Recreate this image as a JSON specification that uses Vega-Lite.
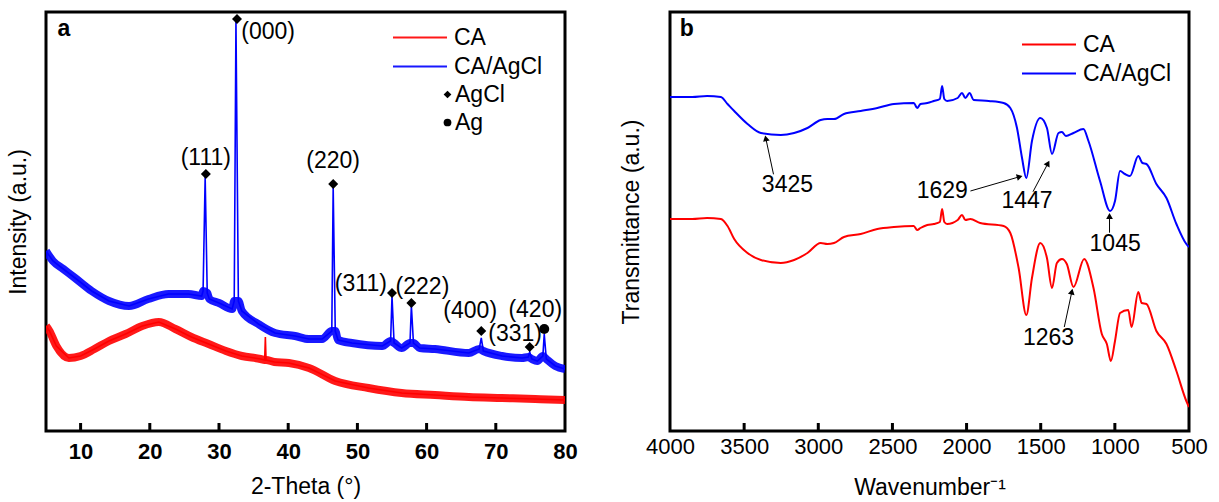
{
  "$schema": "https://vega.github.io/schema/vega-lite/v6.json",
  "padding": {"left": 5, "top": 10, "right": 0, "bottom": 0},
  "bounds": "flush",
  "spacing": 105,
  "background": "white",
  "config": {
    "font": "Liberation Sans",
    "view": {"stroke": "black", "strokeWidth": 3},
    "axis": {"grid": false, "domain": false, "labelColor": "black", "titleColor": "black", "ticks": false},
    "legend": {"labelColor": "black", "labelFontSize": 23, "labelFont": "Liberation Sans"}
  },
  "resolve": {"scale": {"color": "independent"}, "legend": {"color": "independent"}},
  "datasets": {
    "xrd": [
      {"s": "CA", "x": 5.0, "i": 105}, {"s": "CA", "x": 5.5, "i": 100}, {"s": "CA", "x": 6.5, "i": 85},
      {"s": "CA", "x": 8.3, "i": 73}, {"s": "CA", "x": 10.0, "i": 75}, {"s": "CA", "x": 12.0, "i": 82},
      {"s": "CA", "x": 14.1, "i": 90}, {"s": "CA", "x": 16.5, "i": 97}, {"s": "CA", "x": 18.9, "i": 105},
      {"s": "CA", "x": 21.3, "i": 109}, {"s": "CA", "x": 23.7, "i": 102}, {"s": "CA", "x": 26.0, "i": 94},
      {"s": "CA", "x": 28.5, "i": 87}, {"s": "CA", "x": 31.0, "i": 80}, {"s": "CA", "x": 33.3, "i": 75},
      {"s": "CA", "x": 36.0, "i": 72}, {"s": "CA", "x": 36.6, "i": 71}, {"s": "CA", "x": 36.7, "i": 94, "spike": true},
      {"s": "CA", "x": 36.8, "i": 71}, {"s": "CA", "x": 38.0, "i": 69}, {"s": "CA", "x": 40.1, "i": 68},
      {"s": "CA", "x": 43.0, "i": 63}, {"s": "CA", "x": 46.8, "i": 50}, {"s": "CA", "x": 51.6, "i": 43},
      {"s": "CA", "x": 56.4, "i": 38}, {"s": "CA", "x": 61.2, "i": 36}, {"s": "CA", "x": 66.1, "i": 34},
      {"s": "CA", "x": 70.9, "i": 33}, {"s": "CA", "x": 75.7, "i": 32}, {"s": "CA", "x": 80.0, "i": 31},
      {"s": "CA/AgCl", "x": 5.0, "i": 180}, {"s": "CA/AgCl", "x": 6.0, "i": 170}, {"s": "CA/AgCl", "x": 7.5, "i": 162},
      {"s": "CA/AgCl", "x": 9.2, "i": 153}, {"s": "CA/AgCl", "x": 11.6, "i": 140}, {"s": "CA/AgCl", "x": 14.1, "i": 130},
      {"s": "CA/AgCl", "x": 17.0, "i": 125}, {"s": "CA/AgCl", "x": 19.8, "i": 132}, {"s": "CA/AgCl", "x": 22.7, "i": 137},
      {"s": "CA/AgCl", "x": 25.6, "i": 137}, {"s": "CA/AgCl", "x": 27.5, "i": 135}, {"s": "CA/AgCl", "x": 27.7, "i": 140},
      {"s": "CA/AgCl", "x": 28.0, "i": 254, "spike": true}, {"s": "CA/AgCl", "x": 28.3, "i": 138}, {"s": "CA/AgCl", "x": 28.6, "i": 132},
      {"s": "CA/AgCl", "x": 30.0, "i": 128}, {"s": "CA/AgCl", "x": 31.9, "i": 122}, {"s": "CA/AgCl", "x": 32.2, "i": 130},
      {"s": "CA/AgCl", "x": 32.45, "i": 410, "spike": true}, {"s": "CA/AgCl", "x": 32.8, "i": 130}, {"s": "CA/AgCl", "x": 33.3, "i": 120},
      {"s": "CA/AgCl", "x": 35.7, "i": 107}, {"s": "CA/AgCl", "x": 38.1, "i": 98}, {"s": "CA/AgCl", "x": 41.0, "i": 95},
      {"s": "CA/AgCl", "x": 43.0, "i": 92}, {"s": "CA/AgCl", "x": 44.9, "i": 92}, {"s": "CA/AgCl", "x": 46.3, "i": 100},
      {"s": "CA/AgCl", "x": 46.5, "i": 244, "spike": true}, {"s": "CA/AgCl", "x": 46.8, "i": 100}, {"s": "CA/AgCl", "x": 47.2, "i": 91},
      {"s": "CA/AgCl", "x": 49.2, "i": 88}, {"s": "CA/AgCl", "x": 53.6, "i": 85}, {"s": "CA/AgCl", "x": 54.8, "i": 90},
      {"s": "CA/AgCl", "x": 55.0, "i": 135, "spike": true}, {"s": "CA/AgCl", "x": 55.3, "i": 88}, {"s": "CA/AgCl", "x": 56.4, "i": 83},
      {"s": "CA/AgCl", "x": 57.6, "i": 88}, {"s": "CA/AgCl", "x": 57.8, "i": 125, "spike": true}, {"s": "CA/AgCl", "x": 58.1, "i": 88},
      {"s": "CA/AgCl", "x": 59.0, "i": 83}, {"s": "CA/AgCl", "x": 61.2, "i": 82}, {"s": "CA/AgCl", "x": 66.1, "i": 78},
      {"s": "CA/AgCl", "x": 67.6, "i": 82}, {"s": "CA/AgCl", "x": 67.9, "i": 93, "spike": true}, {"s": "CA/AgCl", "x": 68.2, "i": 80},
      {"s": "CA/AgCl", "x": 70.9, "i": 75}, {"s": "CA/AgCl", "x": 73.8, "i": 73}, {"s": "CA/AgCl", "x": 74.7, "i": 74},
      {"s": "CA/AgCl", "x": 74.9, "i": 79, "spike": true}, {"s": "CA/AgCl", "x": 75.2, "i": 72}, {"s": "CA/AgCl", "x": 76.0, "i": 70},
      {"s": "CA/AgCl", "x": 76.8, "i": 75}, {"s": "CA/AgCl", "x": 77.0, "i": 97, "spike": true}, {"s": "CA/AgCl", "x": 77.3, "i": 72},
      {"s": "CA/AgCl", "x": 78.6, "i": 65}, {"s": "CA/AgCl", "x": 80.0, "i": 62}
    ],
    "xrdPeaks": [
      {"hkl": "(111)", "phase": "AgCl", "x": 28.1, "i": 257, "lx": 28.1, "li": 273},
      {"hkl": "(000)", "phase": "AgCl", "x": 32.6, "i": 412, "lx": 37.1, "li": 399},
      {"hkl": "(220)", "phase": "AgCl", "x": 46.5, "i": 247, "lx": 46.5, "li": 270},
      {"hkl": "(311)", "phase": "AgCl", "x": 55.0, "i": 138, "lx": 50.5, "li": 147},
      {"hkl": "(222)", "phase": "AgCl", "x": 57.8, "i": 128, "lx": 59.4, "li": 144},
      {"hkl": "(400)", "phase": "AgCl", "x": 67.9, "i": 100, "lx": 66.3, "li": 120},
      {"hkl": "(331)", "phase": "AgCl", "x": 74.9, "i": 84, "lx": 72.8, "li": 97},
      {"hkl": "(420)", "phase": "Ag", "x": 77.0, "i": 102, "lx": 75.7, "li": 121}
    ],
    "ftir": [
      {"s": "CA", "wn": 4000, "t": 212}, {"s": "CA", "wn": 3850, "t": 212}, {"s": "CA", "wn": 3750, "t": 213},
      {"s": "CA", "wn": 3657, "t": 212}, {"s": "CA", "wn": 3612, "t": 205}, {"s": "CA", "wn": 3567, "t": 192},
      {"s": "CA", "wn": 3477, "t": 178}, {"s": "CA", "wn": 3387, "t": 171}, {"s": "CA", "wn": 3253, "t": 168},
      {"s": "CA", "wn": 3163, "t": 171}, {"s": "CA", "wn": 3073, "t": 178}, {"s": "CA", "wn": 2984, "t": 188},
      {"s": "CA", "wn": 2939, "t": 187}, {"s": "CA", "wn": 2894, "t": 188}, {"s": "CA", "wn": 2827, "t": 194},
      {"s": "CA", "wn": 2714, "t": 197}, {"s": "CA", "wn": 2602, "t": 202}, {"s": "CA", "wn": 2490, "t": 204},
      {"s": "CA", "wn": 2356, "t": 205}, {"s": "CA", "wn": 2333, "t": 201}, {"s": "CA", "wn": 2311, "t": 203},
      {"s": "CA", "wn": 2265, "t": 206}, {"s": "CA", "wn": 2221, "t": 207}, {"s": "CA", "wn": 2180, "t": 209},
      {"s": "CA", "wn": 2165, "t": 222}, {"s": "CA", "wn": 2150, "t": 209}, {"s": "CA", "wn": 2131, "t": 207},
      {"s": "CA", "wn": 2060, "t": 211}, {"s": "CA", "wn": 2031, "t": 216}, {"s": "CA", "wn": 2008, "t": 211},
      {"s": "CA", "wn": 1975, "t": 212}, {"s": "CA", "wn": 1908, "t": 208}, {"s": "CA", "wn": 1750, "t": 205},
      {"s": "CA", "wn": 1705, "t": 198}, {"s": "CA", "wn": 1649, "t": 163}, {"s": "CA", "wn": 1597, "t": 116},
      {"s": "CA", "wn": 1559, "t": 153}, {"s": "CA", "wn": 1503, "t": 188}, {"s": "CA", "wn": 1458, "t": 173},
      {"s": "CA", "wn": 1424, "t": 143}, {"s": "CA", "wn": 1391, "t": 168}, {"s": "CA", "wn": 1357, "t": 172},
      {"s": "CA", "wn": 1324, "t": 167}, {"s": "CA", "wn": 1279, "t": 144}, {"s": "CA", "wn": 1207, "t": 172},
      {"s": "CA", "wn": 1144, "t": 143}, {"s": "CA", "wn": 1088, "t": 97}, {"s": "CA", "wn": 1054, "t": 87},
      {"s": "CA", "wn": 1027, "t": 70}, {"s": "CA", "wn": 999, "t": 90}, {"s": "CA", "wn": 965, "t": 118},
      {"s": "CA", "wn": 910, "t": 121}, {"s": "CA", "wn": 887, "t": 104}, {"s": "CA", "wn": 842, "t": 139},
      {"s": "CA", "wn": 819, "t": 128}, {"s": "CA", "wn": 787, "t": 127}, {"s": "CA", "wn": 720, "t": 100},
      {"s": "CA", "wn": 652, "t": 87}, {"s": "CA", "wn": 585, "t": 60}, {"s": "CA", "wn": 518, "t": 30},
      {"s": "CA", "wn": 500, "t": 24},
      {"s": "CA/AgCl", "wn": 4000, "t": 334}, {"s": "CA/AgCl", "wn": 3850, "t": 334}, {"s": "CA/AgCl", "wn": 3750, "t": 335},
      {"s": "CA/AgCl", "wn": 3657, "t": 334}, {"s": "CA/AgCl", "wn": 3612, "t": 327}, {"s": "CA/AgCl", "wn": 3567, "t": 320},
      {"s": "CA/AgCl", "wn": 3477, "t": 307}, {"s": "CA/AgCl", "wn": 3387, "t": 298}, {"s": "CA/AgCl", "wn": 3253, "t": 296},
      {"s": "CA/AgCl", "wn": 3163, "t": 298}, {"s": "CA/AgCl", "wn": 3073, "t": 303}, {"s": "CA/AgCl", "wn": 2984, "t": 311},
      {"s": "CA/AgCl", "wn": 2939, "t": 312}, {"s": "CA/AgCl", "wn": 2894, "t": 312}, {"s": "CA/AgCl", "wn": 2827, "t": 317},
      {"s": "CA/AgCl", "wn": 2714, "t": 320}, {"s": "CA/AgCl", "wn": 2602, "t": 323}, {"s": "CA/AgCl", "wn": 2490, "t": 327},
      {"s": "CA/AgCl", "wn": 2356, "t": 328}, {"s": "CA/AgCl", "wn": 2333, "t": 323}, {"s": "CA/AgCl", "wn": 2311, "t": 327},
      {"s": "CA/AgCl", "wn": 2265, "t": 328}, {"s": "CA/AgCl", "wn": 2221, "t": 330}, {"s": "CA/AgCl", "wn": 2180, "t": 332},
      {"s": "CA/AgCl", "wn": 2165, "t": 345}, {"s": "CA/AgCl", "wn": 2150, "t": 332}, {"s": "CA/AgCl", "wn": 2131, "t": 330},
      {"s": "CA/AgCl", "wn": 2060, "t": 333}, {"s": "CA/AgCl", "wn": 2031, "t": 338}, {"s": "CA/AgCl", "wn": 2008, "t": 333},
      {"s": "CA/AgCl", "wn": 1980, "t": 338}, {"s": "CA/AgCl", "wn": 1952, "t": 331}, {"s": "CA/AgCl", "wn": 1850, "t": 330},
      {"s": "CA/AgCl", "wn": 1750, "t": 328}, {"s": "CA/AgCl", "wn": 1705, "t": 323}, {"s": "CA/AgCl", "wn": 1660, "t": 303},
      {"s": "CA/AgCl", "wn": 1626, "t": 273}, {"s": "CA/AgCl", "wn": 1597, "t": 253}, {"s": "CA/AgCl", "wn": 1559, "t": 290},
      {"s": "CA/AgCl", "wn": 1503, "t": 313}, {"s": "CA/AgCl", "wn": 1458, "t": 303}, {"s": "CA/AgCl", "wn": 1424, "t": 277},
      {"s": "CA/AgCl", "wn": 1380, "t": 298}, {"s": "CA/AgCl", "wn": 1357, "t": 299}, {"s": "CA/AgCl", "wn": 1330, "t": 295},
      {"s": "CA/AgCl", "wn": 1279, "t": 298}, {"s": "CA/AgCl", "wn": 1212, "t": 302}, {"s": "CA/AgCl", "wn": 1178, "t": 290},
      {"s": "CA/AgCl", "wn": 1100, "t": 250}, {"s": "CA/AgCl", "wn": 1032, "t": 220}, {"s": "CA/AgCl", "wn": 999, "t": 230},
      {"s": "CA/AgCl", "wn": 965, "t": 260}, {"s": "CA/AgCl", "wn": 932, "t": 257}, {"s": "CA/AgCl", "wn": 898, "t": 255},
      {"s": "CA/AgCl", "wn": 842, "t": 275}, {"s": "CA/AgCl", "wn": 814, "t": 268}, {"s": "CA/AgCl", "wn": 787, "t": 267},
      {"s": "CA/AgCl", "wn": 720, "t": 247}, {"s": "CA/AgCl", "wn": 652, "t": 233}, {"s": "CA/AgCl", "wn": 585, "t": 207},
      {"s": "CA/AgCl", "wn": 518, "t": 187}, {"s": "CA/AgCl", "wn": 500, "t": 184}
    ],
    "ftirNotes": [
      {"band": "3425", "tx": 3208, "tt": 246, "ax": 3302, "at": 256.7, "px": 3354, "pt": 292.7},
      {"band": "1629", "tx": 2164, "tt": 240, "ax": 1974, "at": 240, "px": 1642, "pt": 254.3},
      {"band": "1447", "tx": 1592, "tt": 230, "ax": 1552, "at": 239.3, "px": 1451, "pt": 267.7},
      {"band": "1045", "tx": 998, "tt": 187.3, "ax": 1036, "at": 198.3, "px": 1036, "pt": 215},
      {"band": "1263", "tx": 1447, "tt": 93, "ax": 1341, "at": 104, "px": 1290, "pt": 139.3}
    ]
  },
  "hconcat": [
    {
      "width": 519,
      "height": 419,
      "layer": [
        {
          "data": {"name": "xrd"},
          "transform": [{"filter": "!datum.spike"}],
          "mark": {"type": "line", "strokeWidth": 8, "opacity": 0.9, "clip": true, "interpolate": "monotone", "strokeJoin": "round"},
          "encoding": {
            "x": {"field": "x", "type": "quantitative", "scale": {"domain": [5, 80], "nice": false, "zero": false},
              "axis": {"title": "2-Theta (°)", "values": [10, 20, 30, 40, 50, 60, 70, 80], "ticks": false,
                "labelFontSize": 22, "labelFontWeight": "bold", "labelPadding": 10, "labelFlush": false,
                "titleFontSize": 23, "titleFontWeight": "normal", "titlePadding": 13}},
            "y": {"field": "i", "type": "quantitative", "scale": {"domain": [0, 419], "nice": false},
              "axis": {"title": "Intensity (a.u.)", "labels": false, "ticks": false, "titleFontSize": 23, "titleFontWeight": "normal", "titlePadding": 16}},
            "color": {"field": "s", "type": "nominal", "scale": {"domain": ["CA", "CA/AgCl"], "range": ["#ff0000", "#0000ff"]},
              "legend": {"title": null, "orient": "none", "legendX": 346, "legendY": 14, "symbolType": "stroke", "symbolSize": 2916,
                "symbolStrokeWidth": 2, "labelOffset": 6, "rowPadding": 5, "clipHeight": 23, "labelFontSize": 23}}
          }
        },
        {
          "data": {"name": "xrd"},
          "mark": {"type": "line", "strokeWidth": 1.6, "clip": true},
          "encoding": {
            "x": {"field": "x", "type": "quantitative"},
            "y": {"field": "i", "type": "quantitative"},
            "color": {"field": "s", "type": "nominal"}
          }
        },
        {
          "data": {"name": "xrdPeaks"},
          "mark": {"type": "point", "filled": true, "color": "black", "opacity": 1, "size": 100},
          "encoding": {
            "x": {"field": "x", "type": "quantitative"},
            "y": {"field": "i", "type": "quantitative"},
            "shape": {"field": "phase", "type": "nominal", "scale": {"domain": ["AgCl", "Ag"], "range": ["diamond", "circle"]},
              "legend": {"title": null, "orient": "none", "legendX": 390, "legendY": 71, "symbolSize": 60, "symbolFillColor": "black",
                "symbolStrokeColor": "black", "labelOffset": -4, "rowPadding": 4, "labelFontSize": 23}}
          }
        },
        {
          "data": {"name": "xrdPeaks"},
          "mark": {"type": "text", "fontSize": 23, "color": "black", "baseline": "middle", "align": "center"},
          "encoding": {
            "x": {"field": "lx", "type": "quantitative"},
            "y": {"field": "li", "type": "quantitative"},
            "text": {"field": "hkl"}
          }
        },
        {
          "data": {"values": [{"x": 7.6, "i": 402, "panel": "a"}]},
          "mark": {"type": "text", "fontSize": 23, "fontWeight": "bold", "color": "black", "baseline": "middle", "align": "center"},
          "encoding": {
            "x": {"field": "x", "type": "quantitative"},
            "y": {"field": "i", "type": "quantitative"},
            "text": {"field": "panel"}
          }
        },
        {
          "data": {"values": [{"x": 10}, {"x": 20}, {"x": 30}, {"x": 40}, {"x": 50}, {"x": 60}, {"x": 70}]},
          "mark": {"type": "rule", "color": "#000000", "strokeWidth": 3, "opacity": 1},
          "encoding": {
            "x": {"field": "x", "type": "quantitative"},
            "y": {"datum": 0},
            "y2": {"datum": 8}
          }
        }
      ]
    },
    {
      "width": 519,
      "height": 419,
      "layer": [
        {
          "data": {"name": "ftir"},
          "mark": {"type": "line", "strokeWidth": 2, "clip": true, "interpolate": "monotone"},
          "encoding": {
            "x": {"field": "wn", "type": "quantitative", "scale": {"domain": [500, 4000], "reverse": true, "nice": false, "zero": false},
              "axis": {"title": "Wavenumber⁻¹", "values": [4000, 3500, 3000, 2500, 2000, 1500, 1000, 500], "format": "d", "ticks": false,
                "labelFontSize": 22, "labelFontWeight": "normal", "labelPadding": 5.5, "labelFlush": false,
                "titleFontSize": 23, "titleFontWeight": "normal", "titlePadding": 18.5}},
            "y": {"field": "t", "type": "quantitative", "scale": {"domain": [0, 419], "nice": false},
              "axis": {"title": "Transmittance (a.u.)", "labels": false, "ticks": false, "titleFontSize": 23, "titleFontWeight": "normal", "titlePadding": 27}},
            "color": {"field": "s", "type": "nominal", "scale": {"domain": ["CA", "CA/AgCl"], "range": ["#ff0000", "#0000ff"]},
              "legend": {"title": null, "orient": "none", "legendX": 351, "legendY": 21, "symbolType": "stroke", "symbolSize": 2916,
                "symbolStrokeWidth": 2, "labelOffset": 6, "rowPadding": 5, "clipHeight": 23, "labelFontSize": 23}}
          }
        },
        {
          "data": {"name": "ftirNotes"},
          "mark": {"type": "rule", "color": "black", "strokeWidth": 1},
          "encoding": {
            "x": {"field": "ax", "type": "quantitative"},
            "y": {"field": "at", "type": "quantitative"},
            "x2": {"field": "px"},
            "y2": {"field": "pt"}
          }
        },
        {
          "data": {"name": "ftirNotes"},
          "transform": [{"calculate": "atan2((datum.ax - datum.px) * 519 / 3500, datum.pt - datum.at) * 180 / PI", "as": "dir"}],
          "mark": {"type": "point", "shape": "triangle-up", "filled": true, "color": "black", "opacity": 1, "size": 45},
          "encoding": {
            "x": {"field": "px", "type": "quantitative"},
            "y": {"field": "pt", "type": "quantitative"},
            "angle": {"field": "dir", "type": "quantitative", "scale": null}
          }
        },
        {
          "data": {"name": "ftirNotes"},
          "mark": {"type": "text", "fontSize": 23, "color": "black", "baseline": "middle", "align": "center"},
          "encoding": {
            "x": {"field": "tx", "type": "quantitative"},
            "y": {"field": "tt", "type": "quantitative"},
            "text": {"field": "band"}
          }
        },
        {
          "data": {"values": [{"wn": 3886, "t": 402, "panel": "b"}]},
          "mark": {"type": "text", "fontSize": 23, "fontWeight": "bold", "color": "black", "baseline": "middle", "align": "center"},
          "encoding": {
            "x": {"field": "wn", "type": "quantitative"},
            "y": {"field": "t", "type": "quantitative"},
            "text": {"field": "panel"}
          }
        },
        {
          "data": {"values": [{"wn": 3500}, {"wn": 3000}, {"wn": 2500}, {"wn": 2000}, {"wn": 1500}, {"wn": 1000}]},
          "mark": {"type": "rule", "color": "#000000", "strokeWidth": 3, "opacity": 1},
          "encoding": {
            "x": {"field": "wn", "type": "quantitative"},
            "y": {"datum": 0},
            "y2": {"datum": 8}
          }
        }
      ]
    }
  ]
}
